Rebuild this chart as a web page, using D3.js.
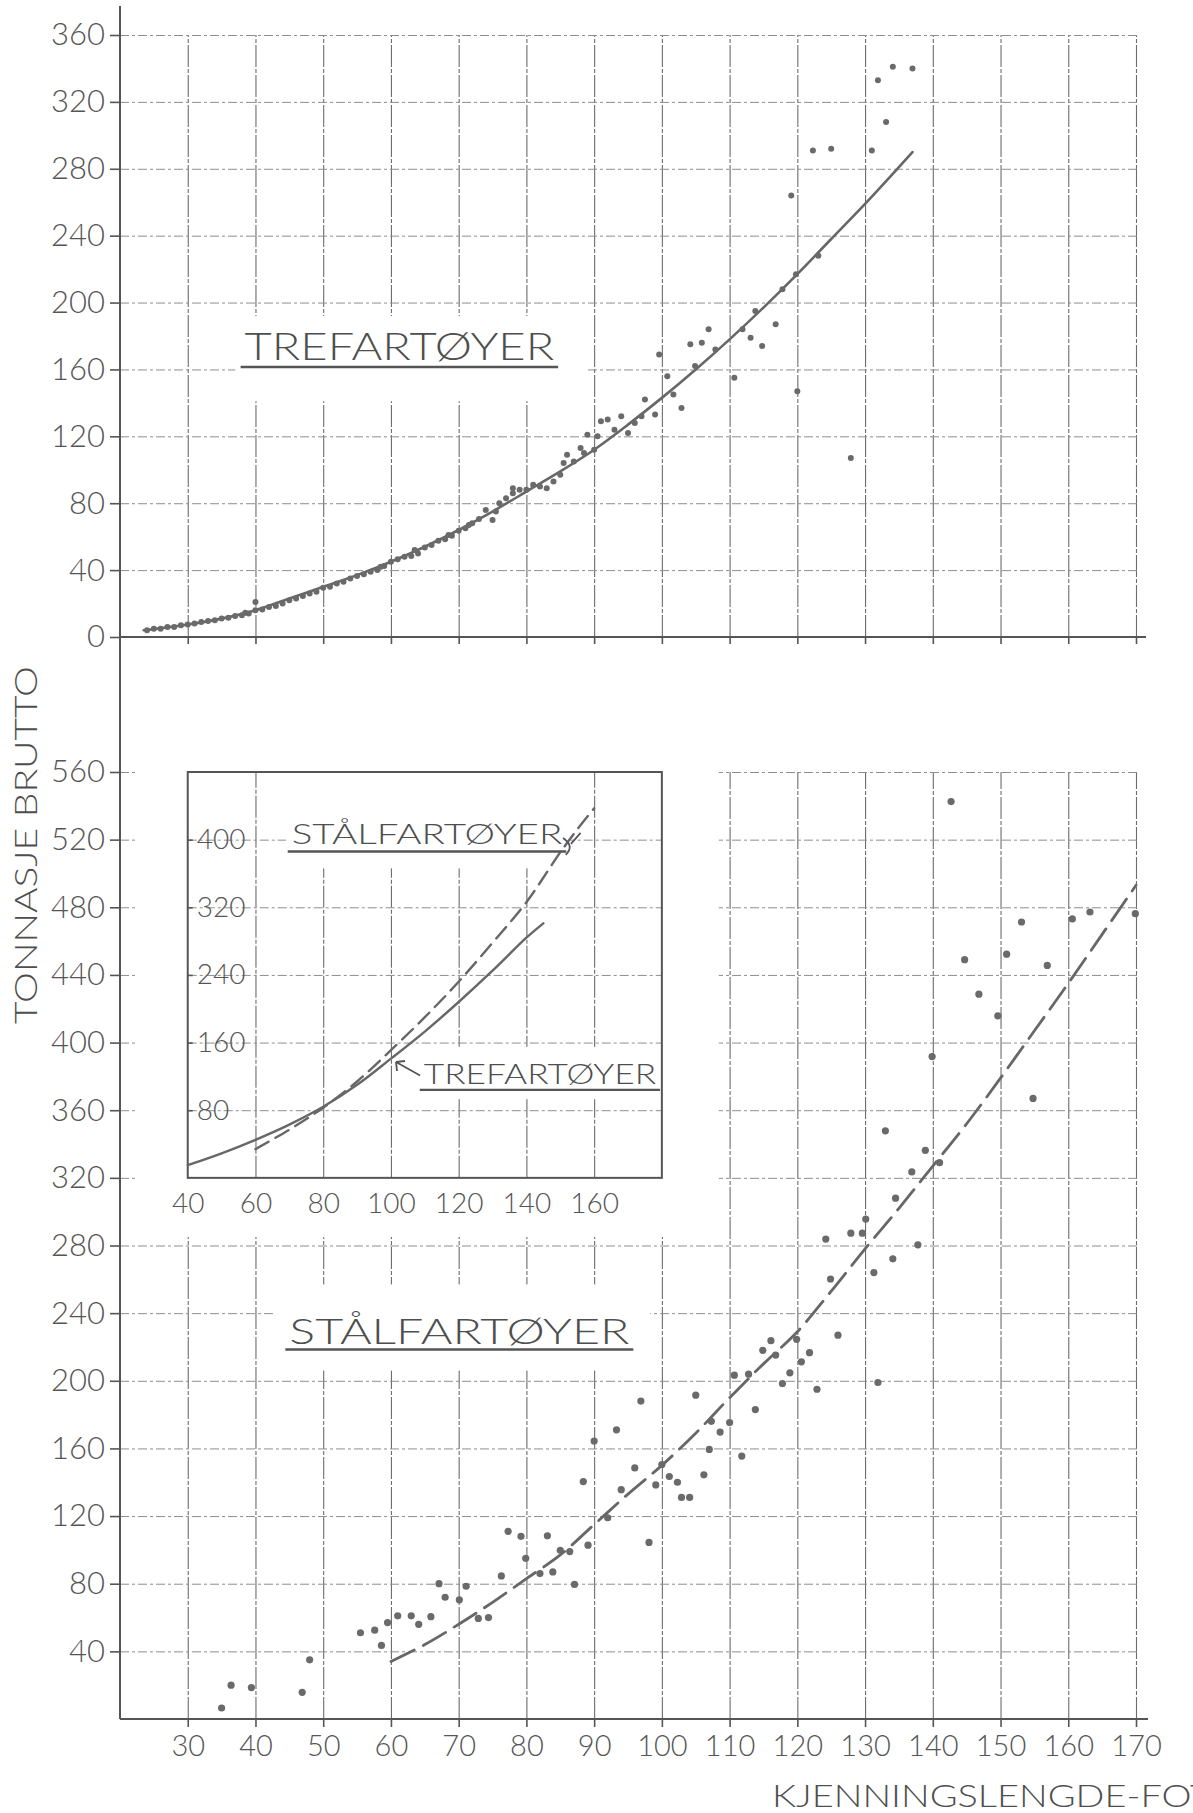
<!DOCTYPE html>
<html>
<head>
<meta charset="utf-8">
<script src="https://cdn.jsdelivr.net/npm/d3@7"></script>
<style>
    body { margin: 0; background: #ffffff; }
    svg { display: block; background: #ffffff; }
    .grid-v line { stroke: #6c6c6c; stroke-width: 1.1; stroke-dasharray: 22,2,4,2; }
    .grid-h line { stroke: #8e8e8e; stroke-width: 1; stroke-dasharray: 9,3,3,3; }
    .axis-line { stroke: #555555; stroke-width: 2; }
    .ticks line { stroke: #555555; stroke-width: 1.6; }
    .ticks text { fill: #555555; font-weight: 300; }
    .label { fill: #4e4e4e; font-weight: 300; }
    .underline { stroke: #555555; stroke-width: 2.4; }
    .mask { fill: #ffffff; }
</style>
</head>
<body>
<svg width="1193" height="1813"></svg>
<script>
// ticks
var xTicks = [30, 40, 50, 60, 70, 80, 90, 100, 110, 120, 130, 140, 150, 160, 170];
var topYTicks = [0, 40, 80, 120, 160, 200, 240, 280, 320, 360];
var bottomYTicks = [40, 80, 120, 160, 200, 240, 280, 320, 360, 400, 440, 480, 520, 560];
var insetXTicks = [40, 60, 80, 100, 120, 140, 160];
var insetYTicks = [80, 160, 240, 320, 400];

// trefartøyer (wood), fitted curve + observations
var woodCurveX = [23.5, 30, 35, 40, 45, 50, 55, 60, 65, 70, 75, 80, 85, 90, 95, 100, 105, 110, 115, 120, 125, 130, 135, 137];
var woodCurveY = [4, 7.5, 11, 16, 23, 30, 37, 45, 54, 64, 75, 87, 99, 112, 127, 143, 160, 178, 197, 217, 238, 259, 281, 290];
var woodPoints = [
    [24, 4], [25, 5], [26, 5], [27, 6], [28, 6], [29, 7], [30, 7.5], [31, 8], [32, 9], [33, 9.5],
    [34, 10], [35, 11], [36, 11.5], [37, 12.5], [38, 13], [38.5, 14.5], [39, 14], [40, 16], [40, 21], [41, 16.5],
    [42, 18], [43, 18.5], [44, 20], [45, 22], [46, 23], [47, 24.5], [48, 26], [49, 27], [50, 29.5], [51, 30],
    [52, 32], [53, 33], [54, 35], [55, 36.5], [56, 37.5], [57, 39], [58, 40], [58.5, 42], [59, 42.5], [60, 45],
    [61, 46.5], [62, 48], [63, 48.5], [63.5, 52], [64, 50], [65, 53.5], [66, 55], [67, 57.5], [68, 58.5], [68.5, 61],
    [69, 60.5], [70, 63.5], [71, 65], [71.5, 67], [72, 68], [73, 70.5], [74, 76], [75, 70], [75.5, 75], [76, 80],
    [77, 83], [78, 86], [78, 89], [79, 88], [80, 88], [81, 91], [82, 90], [83, 89], [84, 93], [85, 97],
    [85.5, 104], [86, 109], [87, 105], [88, 113], [88.5, 110], [89, 121], [90, 112], [90.5, 120], [91, 129], [92, 130],
    [93, 124], [94, 132], [95, 122], [96, 128], [97, 132], [97.5, 142], [99, 133], [99.6, 169], [100.8, 156], [101.7, 145],
    [102.9, 137], [104.2, 175], [104.9, 162], [105.9, 176], [106.9, 184], [107.9, 172], [110.7, 155], [111.9, 184], [113.1, 179], [113.8, 195],
    [114.8, 174], [116.8, 187], [117.8, 208], [119.1, 264], [120, 147], [119.8, 217], [122.3, 291], [123.1, 228], [125, 292], [127.9, 107],
    [131, 291], [131.9, 333], [133.1, 308], [134.1, 341], [137, 340]
];

// stålfartøyer (steel), fitted curve + observations
var steelCurveX = [60, 65, 70, 75, 80, 85, 90, 95, 100, 105, 110, 115, 120, 125, 130, 135, 140, 145, 150, 155, 160, 165, 170];
var steelCurveY = [34, 44, 56, 69, 83, 97, 115, 133, 150, 169, 190, 210, 229, 253, 278, 302, 327, 352, 379, 407, 435, 464, 493];
var steelPoints = [
    [35, 6.5], [36.4, 20], [39.4, 18.6], [46.9, 15.8], [48, 35], [55.5, 51], [57.6, 52.5], [58.6, 43.5], [59.5, 57], [61, 61],
    [63, 61], [64.1, 56], [65.9, 60.5], [67.1, 80], [68, 72], [70.1, 70.5], [71.1, 78.5], [72.9, 59.5], [74.4, 60], [76.3, 84.6],
    [77.3, 111], [79.2, 108], [79.9, 95], [82, 86], [83.1, 108.3], [83.9, 87], [85, 99.8], [86.4, 99], [87.1, 79.6], [88.4, 140.4],
    [89.1, 102.8], [90, 164.4], [92, 119], [93.3, 171], [94, 135.6], [96, 148.5], [96.9, 188], [98.1, 104.4], [99.1, 138.4], [100, 150.5],
    [101.1, 143.4], [102.3, 140], [102.9, 131], [104.1, 131], [105, 191.5], [106.2, 144.4], [107, 159.4], [107.3, 176], [108.6, 169.7], [110, 175.3],
    [111.8, 155.5], [110.7, 203.3], [112.8, 203.9], [113.8, 183], [114.9, 218], [116.1, 223.7], [116.8, 215.2], [117.8, 198.4], [118.9, 204.7], [119.9, 224.5],
    [120.6, 211.2], [121.8, 216.6], [122.9, 195], [124.2, 283.8], [124.9, 260.2], [126, 227], [127.9, 287.3], [129.6, 287.3], [130.1, 295.6], [131.3, 264],
    [131.9, 199], [133, 347.8], [134.1, 272.1], [134.5, 308], [136.9, 323.5], [137.8, 280.4], [138.9, 336.3], [139.9, 391.7], [141, 329], [142.7, 542.5],
    [144.7, 449], [146.8, 428.6], [149.6, 415.8], [150.9, 452.3], [153.1, 471.3], [154.8, 367], [156.9, 445.6], [160.6, 473.1], [163.2, 477.2], [169.9, 476.2]
];

// inset: both curves on a common scale
var insetWoodX = [40, 50, 60, 70, 80, 90, 100, 110, 120, 130, 140, 145];
var insetWoodY = [15, 29, 45, 63, 84, 110, 141, 173, 208, 245, 284, 301];
var insetSteelX = [60, 70, 80, 90, 100, 110, 120, 130, 140, 150, 155, 160];
var insetSteelY = [34, 57, 83, 114, 151, 190, 232, 278, 326, 385, 412, 437];

var woodLabel = "TREFARTØYER";
var steelLabel = "STÅLFARTØYER";
var yTitle = "TONNASJE BRUTTO";
var xTitle = "KJENNINGSLENGDE-FOT";

var fontFamily = "Lato, 'Open Sans', 'DejaVu Sans', sans-serif";

var svg = d3.select("svg");

var xMain = d3.scaleLinear().domain([20, 170]).range([120, 1136]);
var yTop = d3.scaleLinear().domain([0, 360]).range([637, 35]);
var yBottom = d3.scaleLinear().domain([0, 560]).range([1719, 772]);
var xInset = d3.scaleLinear().domain([40, 180]).range([xMain(30), xMain(100)]);
var yInset = d3.scaleLinear().domain([0, 480]).range([yBottom(320), yBottom(560)]);

var gridRight = 1140;

function zip(xs, ys) {
    return xs.map(function(x, i) { return [x, ys[i]]; });
}

function verticalGrid(scale, ticks, yBase, yTopEdge) {
    var g = svg.append("g")
        .attr("class", "grid-v")
        .attr("transform", "translate(0," + yBase + ")")
        .call(d3.axisBottom(scale).tickValues(ticks).tickSize(-(yBase - yTopEdge)).tickFormat(""));
    g.select(".domain").remove();
    return g;
}

function horizontalGrid(scale, ticks, xLeft, xRight) {
    var g = svg.append("g")
        .attr("class", "grid-h")
        .attr("transform", "translate(" + xLeft + ",0)")
        .call(d3.axisRight(scale).tickValues(ticks).tickSize(xRight - xLeft).tickFormat(""));
    g.select(".domain").remove();
    return g;
}

function mask(x0, x1, y0, y1) {
    svg.append("rect")
        .attr("class", "mask")
        .attr("x", Math.min(x0, x1))
        .attr("y", Math.min(y0, y1))
        .attr("width", Math.abs(x1 - x0))
        .attr("height", Math.abs(y1 - y0));
}

function styleTicks(g, size) {
    g.attr("class", "ticks");
    g.select(".domain").remove();
    g.selectAll("text")
        .style("font-family", fontFamily)
        .style("font-size", size + "px");
}

function title(text, x0, x1, baseline, size, underlineY) {
    svg.append("text")
        .attr("class", "label")
        .attr("x", x0)
        .attr("y", baseline)
        .attr("textLength", x1 - x0)
        .attr("lengthAdjust", "spacingAndGlyphs")
        .style("font-family", fontFamily)
        .style("font-size", size + "px")
        .text(text);
    if (underlineY != null) {
        svg.append("line")
            .attr("class", "underline")
            .attr("x1", x0 - 4)
            .attr("x2", x1 + 4)
            .attr("y1", underlineY)
            .attr("y2", underlineY);
    }
}

function curve(points, xs, ys, dash, width) {
    var line = d3.line()
        .x(function(d) { return xs(d[0]); })
        .y(function(d) { return ys(d[1]); })
        .curve(d3.curveCatmullRom);
    svg.append("path")
        .datum(points)
        .attr("d", line)
        .attr("fill", "none")
        .attr("stroke", "#676767")
        .attr("stroke-width", width)
        .attr("stroke-linecap", "round")
        .attr("stroke-dasharray", dash);
}

function dots(points, xs, ys, r) {
    svg.append("g")
        .selectAll("circle")
        .data(points)
        .join("circle")
        .attr("cx", function(d) { return xs(d[0]); })
        .attr("cy", function(d) { return ys(d[1]); })
        .attr("r", r)
        .attr("fill", "#6a6a6a");
}

// ---- top panel grid
verticalGrid(xMain, xTicks, yTop(0), yTop(360));
horizontalGrid(yTop, topYTicks.slice(1), 120, gridRight);
mask(xMain(37), xMain(89), yTop(141), yTop(192));

// ---- bottom panel grid
verticalGrid(xMain, xTicks, yBottom(0), yBottom(560));
horizontalGrid(yBottom, bottomYTicks, 120, gridRight);
mask(xMain(43), xMain(98.3), yBottom(206), yBottom(257));
mask(xMain(22.5), xMain(108.4), yBottom(285), yBottom(566));

// ---- inset
svg.append("rect")
    .attr("x", xInset(40))
    .attr("y", yInset(480))
    .attr("width", xInset(180) - xInset(40))
    .attr("height", yInset(0) - yInset(480))
    .attr("fill", "#ffffff");
verticalGrid(xInset, insetXTicks.slice(1), yInset(0), yInset(480));
horizontalGrid(yInset, insetYTicks, xInset(40), xInset(180));
mask(xInset(69), xInset(153), yInset(366), yInset(479));
mask(xInset(107), xInset(179), yInset(93), yInset(155));
svg.append("rect")
    .attr("x", xInset(40))
    .attr("y", yInset(480))
    .attr("width", xInset(180) - xInset(40))
    .attr("height", yInset(0) - yInset(480))
    .attr("fill", "none")
    .attr("stroke", "#555555")
    .attr("stroke-width", 2);

var insetY = svg.append("g")
    .attr("transform", "translate(" + xInset(40) + ",0)")
    .call(d3.axisRight(yInset).tickValues(insetYTicks).tickSize(5).tickPadding(4));
styleTicks(insetY, 28);

var insetX = svg.append("g")
    .attr("transform", "translate(0," + yInset(0) + ")")
    .call(d3.axisBottom(xInset).tickValues(insetXTicks).tickSize(0).tickPadding(15));
styleTicks(insetX, 28);

curve(zip(insetWoodX, insetWoodY), xInset, yInset, null, 2.4);
curve(zip(insetSteelX, insetSteelY), xInset, yInset, "15,8", 2.4);

title(steelLabel, xInset(70.7), xInset(150.6), yInset(395), 28, yInset(386));
title(woodLabel, xInset(109.7), xInset(178.3), yInset(111), 28, yInset(104));

// arrow from the wood label to its curve
var arrowTip = [xInset(101.5), yInset(137)];
var arrowTail = [xInset(108.6), yInset(121)];
svg.append("path")
    .attr("d", "M" + arrowTail[0] + "," + arrowTail[1] + " L" + arrowTip[0] + "," + arrowTip[1] +
        " M" + arrowTip[0] + "," + arrowTip[1] + " l9,-1 M" + arrowTip[0] + "," + arrowTip[1] + " l1,9")
    .attr("fill", "none")
    .attr("stroke", "#555555")
    .attr("stroke-width", 1.8);

// hook from the steel label to its curve
var hookTop = [xInset(150.8), yInset(402)];
var hookBottom = [xInset(151.6), yInset(382)];
svg.append("path")
    .attr("d", "M" + hookTop[0] + "," + hookTop[1] + " Q" + (hookTop[0] + 12) + "," + (hookTop[1] + 8) +
        " " + hookBottom[0] + "," + hookBottom[1] +
        " M" + (hookTop[0] + 8) + "," + (hookTop[1] + 6) + " L" + xInset(156) + "," + yInset(408))
    .attr("fill", "none")
    .attr("stroke", "#555555")
    .attr("stroke-width", 1.8);

// ---- axes
svg.append("line")
    .attr("class", "axis-line")
    .attr("x1", 120).attr("x2", 120)
    .attr("y1", 6).attr("y2", yBottom(0));
svg.append("line")
    .attr("class", "axis-line")
    .attr("x1", 120).attr("x2", 1146)
    .attr("y1", yTop(0)).attr("y2", yTop(0));
svg.append("line")
    .attr("class", "axis-line")
    .attr("x1", 120).attr("x2", 1148)
    .attr("y1", yBottom(0)).attr("y2", yBottom(0));

var topY = svg.append("g")
    .attr("transform", "translate(120,0)")
    .call(d3.axisLeft(yTop).tickValues(topYTicks).tickSize(10).tickPadding(5));
styleTicks(topY, 31);

var bottomY = svg.append("g")
    .attr("transform", "translate(120,0)")
    .call(d3.axisLeft(yBottom).tickValues(bottomYTicks).tickSize(10).tickPadding(5));
styleTicks(bottomY, 31);

var topX = svg.append("g")
    .attr("transform", "translate(0," + yTop(0) + ")")
    .call(d3.axisBottom(xMain).tickValues(xTicks).tickSize(7).tickFormat(""));
styleTicks(topX, 28);

var bottomX = svg.append("g")
    .attr("transform", "translate(0," + yBottom(0) + ")")
    .call(d3.axisBottom(xMain).tickValues(xTicks).tickSize(8).tickPadding(8));
styleTicks(bottomX, 29);

// ---- data
curve(zip(woodCurveX, woodCurveY), xMain, yTop, null, 2.6);
dots(woodPoints, xMain, yTop, 3);

curve(zip(steelCurveX, steelCurveY), xMain, yBottom, "26,10", 2.8);
dots(steelPoints, xMain, yBottom, 3.6);

// ---- titles
title(woodLabel, xMain(38.4), xMain(84.1), yTop(165.5), 37, yTop(161.5));
title(steelLabel, xMain(45), xMain(95.2), yBottom(222), 36, yBottom(218.5));

svg.append("text")
    .attr("class", "label")
    .attr("transform", "translate(37,845) rotate(-90)")
    .attr("text-anchor", "middle")
    .attr("textLength", 358)
    .attr("lengthAdjust", "spacingAndGlyphs")
    .style("font-family", fontFamily)
    .style("font-size", "31px")
    .text(yTitle);

svg.append("text")
    .attr("class", "label")
    .attr("x", 772)
    .attr("y", 1807)
    .attr("textLength", 440)
    .attr("lengthAdjust", "spacingAndGlyphs")
    .style("font-family", fontFamily)
    .style("font-size", "31px")
    .text(xTitle);
</script>
</body>
</html>
